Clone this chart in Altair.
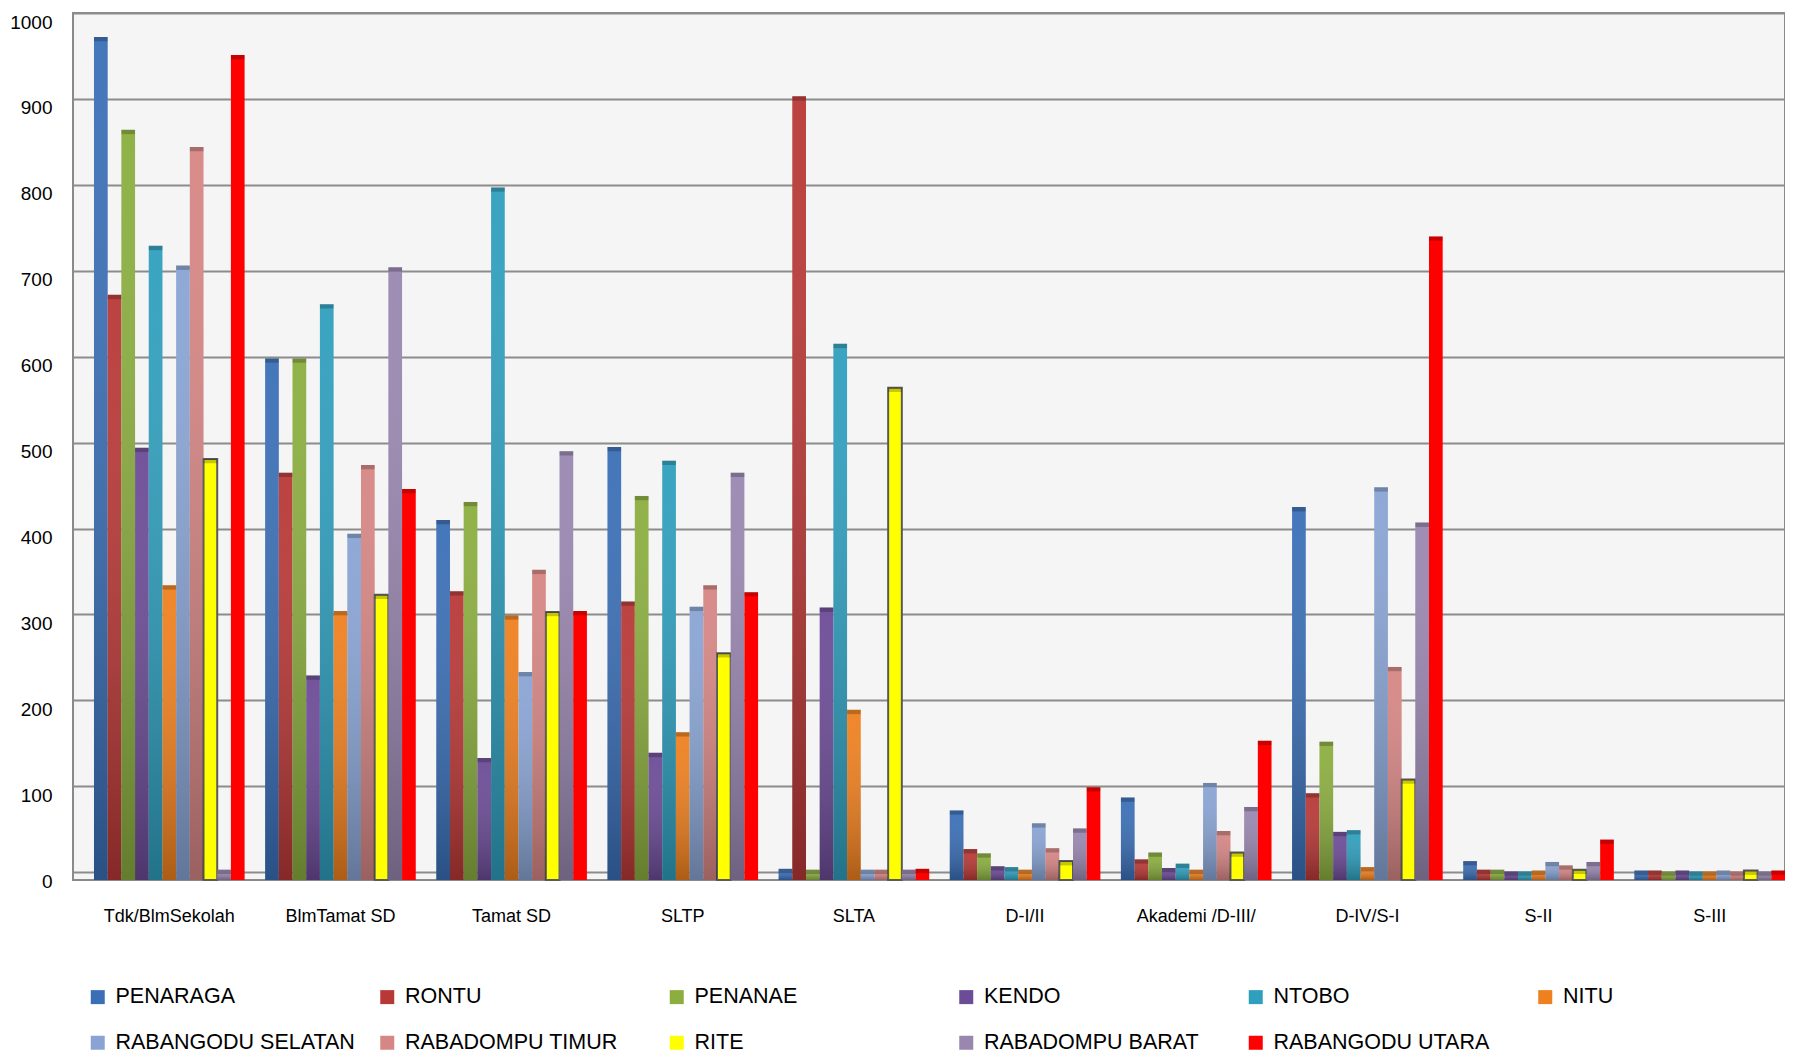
import altair as alt
import pandas as pd

categories = ["Tdk/BlmSekolah", "BlmTamat SD", "Tamat SD", "SLTP", "SLTA",
              "D-I/II", "Akademi /D-III/", "D-IV/S-I", "S-II", "S-III"]

series = ["PENARAGA", "RONTU", "PENANAE", "KENDO", "NTOBO", "NITU",
          "RABANGODU SELATAN", "RABADOMPU TIMUR", "RITE", "RABADOMPU BARAT",
          "RABANGODU UTARA"]

penaraga = [972, 598, 410, 495, 4, 72, 87, 425, 13, 2]
rontu = [672, 465, 327, 315, 903, 27, 15, 92, 3, 2]
penanae = [864, 598, 431, 438, 3, 22, 23, 152, 3, 1]
kendo = [494, 229, 133, 139, 308, 7, 5, 47, 1, 2]
ntobo = [729, 661, 797, 479, 615, 6, 10, 49, 1, 1]
nitu = [334, 304, 299, 163, 189, 3, 3, 6, 2, 1]
rabangodu_selatan = [706, 394, 233, 309, 3, 57, 104, 448, 12, 2]
rabadompu_timur = [844, 474, 352, 334, 3, 28, 48, 239, 8, 1]
rite = [481, 323, 303, 255, 564, 13, 23, 108, 3, 2]
rabadompu_barat = [3, 704, 490, 465, 3, 51, 76, 407, 12, 1]
rabangodu_utara = [951, 446, 304, 326, 4, 99, 153, 740, 38, 2]

colors = ["#3A6FB7", "#B83836", "#8BAE3F", "#6C4B97", "#2F9FBE", "#EF801F",
          "#89A4D4", "#D68684", "#FFFF00", "#9987B0", "#FF0000"]

all_values = [penaraga, rontu, penanae, kendo, ntobo, nitu, rabangodu_selatan,
              rabadompu_timur, rite, rabadompu_barat, rabangodu_utara]

rows = []
for s, vals in zip(series, all_values):
    for c, v in zip(categories, vals):
        rows.append({"category": c, "series": s, "value": v})
df = pd.DataFrame(rows)

FONT = "Liberation Sans, Arial, sans-serif"

x_enc = alt.X(
    "category:N", sort=categories,
    scale=alt.Scale(paddingInner=0.12, paddingOuter=0.0613, align=1),
    axis=alt.Axis(title=None, labelAngle=0, labelFont=FONT, labelFontSize=18,
                  labelColor="black", labelPadding=27, ticks=False, domain=False,
                  grid=False),
)
xo_enc = alt.XOffset("series:N", sort=series,
                     scale=alt.Scale(domain=series, paddingInner=0, paddingOuter=0))
y_enc = alt.Y(
    "value:Q",
    scale=alt.Scale(domain=[-9, 1000], nice=False, zero=False),
    axis=alt.Axis(title=None, values=list(range(0, 1001, 100)), format="d",
                  labelFont=FONT, labelFontSize=19, labelColor="black",
                  labelPadding=21, ticks=False, tickSize=0, domain=False,
                  gridColor="#8C8C8C", gridWidth=2, labelOffset=9),
)

bars = alt.Chart(df).mark_bar(stroke="#5A5A5A").encode(
    x=x_enc,
    xOffset=xo_enc,
    y=y_enc,
    y2=alt.Y2Datum(-9),
    color=alt.Color(
        "series:N",
        scale=alt.Scale(domain=series, range=colors),
        legend=alt.Legend(
            title=None, orient="none", legendX=14, legendY=973,
            direction="horizontal", columns=6, symbolType="square",
            symbolSize=196, symbolStrokeWidth=0, labelFont=FONT,
            labelFontSize=21.5, labelColor="black", labelOffset=7,
            columnPadding=21.5, rowPadding=23, labelLimit=400, padding=0,
            gridAlign="all",
        ),
    ),
    strokeWidth=alt.condition("datum.series === 'RITE'", alt.value(2), alt.value(0)),
)

shade = alt.Chart(df).transform_filter(
    "datum.series !== 'RITE' && datum.series !== 'RABANGODU UTARA'"
).mark_bar(
    color={"gradient": "linear", "x1": 0, "y1": 0, "x2": 0, "y2": 1,
           "stops": [{"offset": 0, "color": "rgba(255,255,255,0.05)"},
                     {"offset": 1, "color": "rgba(0,0,0,0.28)"}]}
).encode(
    x=x_enc,
    xOffset=xo_enc,
    y=y_enc,
    y2=alt.Y2Datum(-9),
)

cap = alt.Chart(df).transform_calculate(
    cap_low="max(datum.value - 5, -9)"
).mark_bar(color="black", opacity=0.22).encode(
    x=x_enc,
    xOffset=xo_enc,
    y=y_enc,
    y2="cap_low:Q",
)

chart = alt.layer(bars, shade, cap).properties(
    width=1712, height=867,
    autosize=alt.AutoSizeParams(type="none"),
    padding={"left": 65, "top": 5, "right": 0, "bottom": 175},
    background="white",
).configure_view(
    fill="#F5F5F5", stroke="#8A8A8A", strokeWidth=2
)

chart.save("out.html", embed_options={"renderer": "svg", "actions": False})
